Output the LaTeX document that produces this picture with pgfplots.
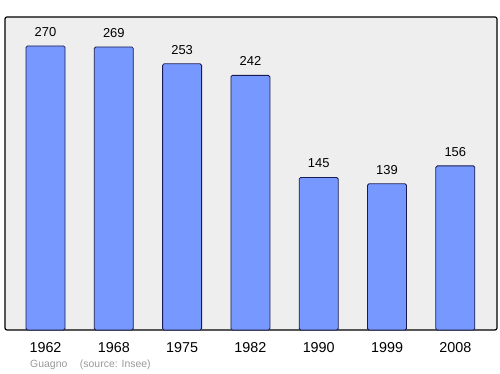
\documentclass[border=0pt]{standalone}
\usepackage{pgfplots}
\pgfplotsset{compat=1.18}
\usepackage{fontspec}
\setmainfont{Liberation Sans}
\definecolor{barfill}{HTML}{7799FF}
\definecolor{barline}{HTML}{1A1A50}
\definecolor{bg}{HTML}{EEEEEE}
\begin{document}
\begin{tikzpicture}
\path[use as bounding box] (0,0) rectangle (500bp,374bp);
\begin{axis}[
  at={(5bp,44bp)}, anchor=south west,
  scale only axis, width=492bp, height=313bp,
  xmin=-0.593, xmax=6.61, ymin=0, ymax=297.5,
  axis line style={draw=none},
  axis background/.style={fill=bg, draw=black, line width=1.2bp, rounded corners=2bp},
  ytick=\empty,
  xtick={0,1,2,3,4,5,6},
  xticklabels={1962,1968,1975,1982,1990,1999,2008},
  xtick style={draw=none},
  xticklabel style={font=\fontsize{14.4}{16}\selectfont, anchor=north, inner sep=0pt, yshift=-8bp},
  ybar, bar width=0.571,
  nodes near coords,
  every node near coord/.append style={font=\fontsize{13}{14}\selectfont, anchor=south, inner sep=0pt, yshift=9bp},
  /pgf/number format/assume math mode=true,
  clip=false,
]
\addplot[fill=barfill, draw=barline, line width=0.8bp, rounded corners=1.5bp] coordinates {
(0,270) (1,269) (2,253) (3,242) (4,145) (5,139) (6,156)};
\end{axis}
\node[anchor=west, inner sep=0pt, text=gray!80, font=\fontsize{10.5}{12}\selectfont] at (30bp,9bp) {Guagno\hspace{1.2em}(source: Insee)};
\end{tikzpicture}
\end{document}
